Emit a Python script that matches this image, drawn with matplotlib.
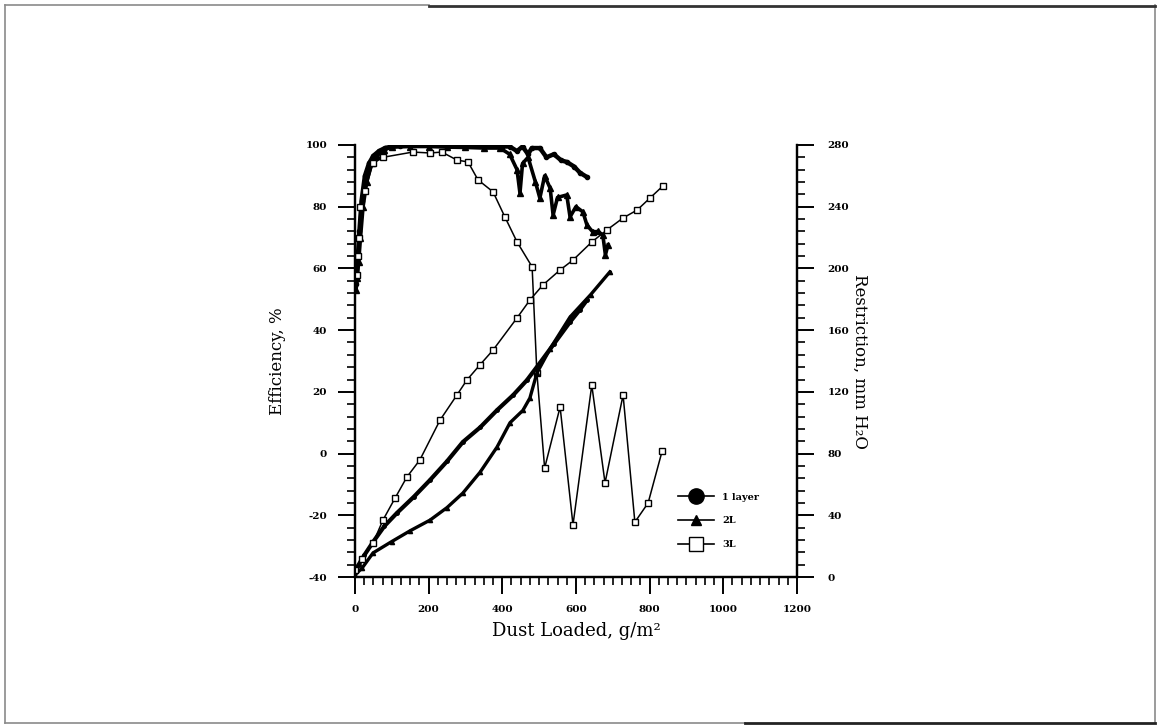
import matplotlib
matplotlib.use("Agg")
import matplotlib.pyplot as plt
from matplotlib.lines import Line2D
from matplotlib.ticker import MultipleLocator

plt.rcParams['font.family'] = ['DejaVu Serif', 'DejaVu Sans']
plt.rcParams['axes.unicode_minus'] = False

# efficiency, %  (left axis)
load_circ_eff = [3, 5, 8, 12, 18, 27, 38, 50, 65, 81, 100, 122, 160, 200, 250, 300, 350, 400,
                 420, 440, 455, 470, 480, 502, 520, 540, 560, 575, 595, 611, 630]
eff_circ = [55, 58, 64, 72, 82, 90, 94, 96.5, 98, 99, 99.5, 99.8, 100, 100, 100, 99.8, 99.6, 99.5,
            99.5, 98, 99.5, 97, 99, 99, 96, 97, 95, 94.5, 93, 91, 89.6]

load_tri_eff = [3, 6, 10, 15, 22, 32, 45, 60, 80, 100, 150, 200, 250, 300, 350, 394, 420, 440,
                448, 455, 470, 490, 502, 515, 530, 538, 550, 575, 584, 600, 619, 630, 646, 660,
                673, 680, 687]
eff_tri = [53, 57, 62, 70, 80, 88, 94, 96.5, 98.5, 99.3, 99.5, 99.5, 99.3, 99.2, 99, 99, 97, 92,
           84.4, 94, 96, 88, 82.8, 90, 86, 77.3, 83, 83.8, 76.7, 80, 78.3, 74, 71.8, 72,
           70.8, 64.4, 67.6]

load_sq_eff = [5, 8, 10, 14, 27, 49, 76, 157, 204, 236, 277, 307, 334, 375, 407, 440, 481,
               494, 515, 557, 592, 643, 679, 728, 760, 796, 834]
eff_sq = [58, 64, 70, 80, 85, 94, 96, 97.7, 97.4, 97.7, 95.1, 94.5, 88.7, 84.8, 76.7, 68.6, 60.5,
          26.1, -4.7, 15.1, -23.1, 22.2, -9.5, 19, -22.2, -16, 0.8]

# restriction, mm H2O  (right axis)
load_circ_res = [0, 10, 25, 50, 80, 114, 160, 204, 250, 293, 340, 386, 430, 467, 502, 540, 584,
                 610, 630]
res_circ = [4.5, 8, 14, 23, 33, 41.5, 52, 62.9, 75, 87.5, 97, 108.2, 118, 127.6, 138.7, 151,
            165.3, 173, 179.5]

load_tri_res = [0, 20, 49, 100, 150, 204, 250, 293, 340, 386, 421, 456, 475, 494, 530, 584,
                640, 692]
res_tri = [1.3, 6, 15.6, 23, 30, 36.9, 45, 54.4, 68, 84.3, 100, 108, 116, 132.2, 148, 168.5,
           183, 197.7]

load_sq_res = [0, 20, 49, 76, 109, 141, 176, 231, 277, 304, 339, 375, 440, 475, 510, 557, 592,
               643, 684, 728, 766, 801, 836]
res_sq = [4.5, 12, 22, 36.9, 51.2, 64.8, 75.8, 101.7, 118, 127.7, 137.4, 147.1, 167.9, 179.5,
          189.2, 199, 205.4, 217.1, 224.9, 232.7, 237.8, 245.6, 253.4]

legend_labels = ['1 layer', '2L', '3L']

fig = plt.figure(figsize=(11.6, 7.27), dpi=100)

# scanned page frame
fig.add_artist(Line2D([0.004, 0.004], [0.005, 0.993], color='#8a8a8a', lw=1.2))
fig.add_artist(Line2D([0.996, 0.996], [0.005, 0.993], color='#8a8a8a', lw=1.2))
fig.add_artist(Line2D([0.004, 0.37], [0.993, 0.993], color='#8a8a8a', lw=1.2))
fig.add_artist(Line2D([0.37, 0.996], [0.992, 0.992], color='#333333', lw=2))
fig.add_artist(Line2D([0.004, 0.642], [0.005, 0.005], color='#8a8a8a', lw=1.2))
fig.add_artist(Line2D([0.642, 0.996], [0.006, 0.006], color='#222222', lw=2))

ax = fig.add_axes([0.306, 0.2063, 0.381, 0.5943])
ax2 = ax.twinx()

ax.plot(load_circ_eff, eff_circ, color='black', lw=3.2, marker='o', ms=3, zorder=3)
ax.plot(load_tri_eff, eff_tri, color='black', lw=2.6, marker='^', ms=4, zorder=3)
ax.plot(load_sq_eff, eff_sq, color='black', lw=1.1, marker='s', ms=5, mfc='white',
        mew=1.0, zorder=4)

ax2.plot(load_circ_res, res_circ, color='black', lw=3.0, marker='o', ms=2.5)
ax2.plot(load_tri_res, res_tri, color='black', lw=2.4, marker='^', ms=3)
ax2.plot(load_sq_res, res_sq, color='black', lw=1.1, marker='s', ms=5, mfc='white', mew=1.0)

ax.set_xlim(0, 1200)
ax.set_ylim(-40, 100)
ax2.set_ylim(0, 280)

for a in (ax, ax2):
    a.spines['top'].set_visible(False)
    for s in a.spines.values():
        s.set_linewidth(1.6)
    a.patch.set_visible(False)

ax.xaxis.set_major_locator(MultipleLocator(200))
ax.xaxis.set_minor_locator(MultipleLocator(25))
ax.yaxis.set_major_locator(MultipleLocator(20))
ax.yaxis.set_minor_locator(MultipleLocator(4))
ax2.yaxis.set_major_locator(MultipleLocator(40))
ax2.yaxis.set_minor_locator(MultipleLocator(8))

ax.tick_params(axis='both', which='major', direction='out', length=12, width=1.4, pad=8)
ax.tick_params(axis='both', which='minor', direction='out', length=6, width=1.2)
ax2.tick_params(axis='y', which='major', direction='out', length=12, width=1.4, pad=10)
ax2.tick_params(axis='y', which='minor', direction='out', length=6, width=1.2)
for lab in ax.get_xticklabels() + ax.get_yticklabels() + ax2.get_yticklabels():
    lab.set_fontsize(7.5)
    lab.set_fontweight('bold')

ax.set_xlabel('Dust Loaded, g/m²', fontsize=13, labelpad=6)
ax.set_ylabel('Efficiency, %', fontsize=12, labelpad=14)
ax2.set_ylabel('Restriction, mm H₂O', fontsize=12, rotation=-90, labelpad=14)

handles = [
    Line2D([], [], color='black', lw=1.2, marker='o', ms=11),
    Line2D([], [], color='black', lw=1.2, marker='^', ms=7),
    Line2D([], [], color='black', lw=1.2, marker='s', ms=10, mfc='white'),
]
ax2.legend(handles, legend_labels, loc='center left', bbox_to_anchor=(0.71, 0.13),
           frameon=False, handlelength=3.8, labelspacing=1.5,
           prop=dict(size=7, weight='bold'))

fig.savefig('out.png', dpi=100)
